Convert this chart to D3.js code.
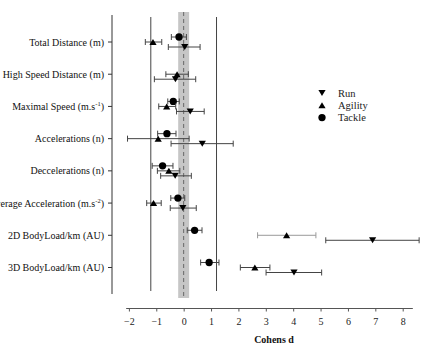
<!DOCTYPE html>
<html>
<head>
<meta charset="utf-8">
<script src="https://cdn.jsdelivr.net/npm/d3@7"></script>
<style>
    body { margin: 0; background: #fff; }
    svg { display: block; font-family: 'Liberation Serif', 'Times New Roman', serif; }
</style>
</head>
<body>
<svg id="chart" width="424" height="346"></svg>
<script>
/**
 * Forest plot of effect sizes (Cohen's d) for three drills.
 */
const categories = [
    'Total Distance (m)',
    'High Speed Distance (m)',
    'Maximal Speed (m.s|-1|)',
    'Accelerations (n)',
    'Decelerations (n)',
    'Average Acceleration (m.s|-2|)',
    '2D BodyLoad/km (AU)',
    '3D BodyLoad/km (AU)'
];
const catLabels = [
    'Total Distance (m)',
    'High Speed Distance (m)',
    'Maximal Speed (m.s|-1|)',
    'Accelerations (n)',
    'Decelerations (n)',
    'Average Acceleration (m.s|-2|)',
    '2D BodyLoad/km (AU)',
    '3D BodyLoad/km (AU)'
];
// fix typo'd label as it appears in the figure
catLabels[4] = 'Deccelerations (n)';

const tackleEst = [-0.17, null, -0.38, -0.61, -0.77, -0.21, 0.40, 0.93],
    tackleLo = [-0.45, null, -0.58, -0.95, -1.15, -0.47, 0.13, 0.62],
    tackleHi = [0.10, null, -0.16, -0.28, -0.39, 0.04, 0.67, 1.29];

const agilityEst = [-1.12, -0.24, -0.62, -0.93, -0.54, -1.10, 3.76, 2.60],
    agilityLo = [-1.40, -0.65, -0.91, -2.05, -0.96, -1.35, 2.70, 2.07],
    agilityHi = [-0.80, 0.17, -0.29, 0.20, -0.14, -0.82, 4.83, 3.15];

const runEst = [0.04, -0.30, 0.24, 0.68, -0.31, -0.03, 6.90, 4.03],
    runLo = [-0.56, -1.07, -0.26, -0.46, -0.84, -0.49, 5.19, 3.01],
    runHi = [0.60, 0.44, 0.75, 1.81, 0.28, 0.46, 8.60, 5.04];

const xTicks = [-2, -1, 0, 1, 2, 3, 4, 5, 6, 7, 8];
const refLines = [-1.2, 1.2];
const trivialBand = [-0.2, 0.2];

const series = [
    { name: 'Tackle', shape: 'circle', offset: -5, est: tackleEst, lo: tackleLo, hi: tackleHi },
    { name: 'Agility', shape: 'up', offset: 0, est: agilityEst, lo: agilityLo, hi: agilityHi },
    { name: 'Run', shape: 'down', offset: 5, est: runEst, lo: runLo, hi: runHi }
];
const legendOrder = ['Run', 'Agility', 'Tackle'];

/**
 * Scales.
 */
const svg = d3.select('#chart');
const xScale = d3.scaleLinear().domain([-2, 8]).range([128.9, 402.7]);
const yScale = d3.scalePoint().domain(categories).range([42, 267.5]);

const axisColor = '#555';

// Trivial band and reference lines
svg.append('rect')
    .attr('x', xScale(trivialBand[0]))
    .attr('width', xScale(trivialBand[1]) - xScale(trivialBand[0]))
    .attr('y', 12).attr('height', 286)
    .attr('fill', '#c6c6c6');

svg.append('line')
    .attr('x1', xScale(0)).attr('x2', xScale(0))
    .attr('y1', 12).attr('y2', 298)
    .attr('stroke', '#666').attr('stroke-width', 1)
    .attr('stroke-dasharray', '4,3');

svg.selectAll('.ref').data(refLines).enter().append('line')
    .attr('class', 'ref')
    .attr('x1', d => xScale(d)).attr('x2', d => xScale(d))
    .attr('y1', 17).attr('y2', 291)
    .attr('stroke', '#444').attr('stroke-width', 1);

// Y axis
const yAxisX = 112;
svg.append('line')
    .attr('x1', yAxisX).attr('x2', yAxisX)
    .attr('y1', 15).attr('y2', 294)
    .attr('stroke', '#333');

const yTick = svg.selectAll('.ytick').data(categories).enter().append('g')
    .attr('class', 'ytick')
    .attr('transform', d => 'translate(0,' + yScale(d) + ')');
yTick.append('line')
    .attr('x1', yAxisX - 4).attr('x2', yAxisX)
    .attr('stroke', '#333');
yTick.append('text')
    .attr('x', yAxisX - 8)
    .attr('dy', '0.35em')
    .attr('text-anchor', 'end')
    .attr('font-size', 10)
    .attr('fill', '#111')
    .each(function(d, i) {
        const parts = catLabels[i].split('|');
        const t = d3.select(this);
        t.append('tspan').text(parts[0]);
        if (parts.length > 1) {
            t.append('tspan').attr('font-size', 6.5).attr('dy', -4).text(parts[1]);
            t.append('tspan').attr('dy', 4).text(parts[2]);
        }
    });

// X axis
const xAxisY = 308.5;
const xAxis = d3.axisBottom(xScale).tickValues(xTicks).tickSize(3).tickFormat(d3.format('d'));
const xg = svg.append('g')
    .attr('transform', 'translate(0,' + xAxisY + ')')
    .call(xAxis);
xg.select('.domain').remove();
xg.append('line')
    .attr('x1', xScale(-2.1)).attr('x2', xScale(8.37))
    .attr('stroke', axisColor);
xg.selectAll('.tick line').attr('stroke', axisColor);
xg.selectAll('.tick text')
    .attr('font-family', "'Liberation Serif', serif")
    .attr('font-size', 10)
    .attr('fill', '#222')
    .attr('y', 9);

svg.append('text')
    .attr('x', xScale(3.3)).attr('y', 343)
    .attr('text-anchor', 'middle')
    .attr('font-size', 10).attr('font-weight', 'bold')
    .attr('fill', '#111')
    .text('Cohens d');

/**
 * Markers.
 */
function markerPath(shape) {
    if (shape === 'circle') return d3.symbol().type(d3.symbolCircle).size(42)();
    const w = 3.6, h = 3;
    if (shape === 'up') return 'M0,' + (-h) + 'L' + w + ',' + h + 'L' + (-w) + ',' + h + 'Z';
    return 'M0,' + h + 'L' + w + ',' + (-h) + 'L' + (-w) + ',' + (-h) + 'Z';
}

series.forEach(s => {
    const rows = categories.map((c, i) => ({ cat: c, est: s.est[i], lo: s.lo[i], hi: s.hi[i] }))
        .filter(d => d.est !== null);
    const g = svg.append('g').attr('class', 'series ' + s.name);
    const bar = g.selectAll('.bar').data(rows).enter().append('g')
        .attr('class', 'bar')
        .attr('transform', d => 'translate(0,' + (yScale(d.cat) + s.offset) + ')');
    const barColor = d => (s.name === 'Agility' && d.cat.startsWith('2D')) ? '#999' : '#444';
    bar.append('line')
        .attr('x1', d => xScale(d.lo)).attr('x2', d => xScale(d.hi))
        .attr('stroke', barColor);
    bar.append('line')
        .attr('x1', d => xScale(d.lo)).attr('x2', d => xScale(d.lo))
        .attr('y1', -3).attr('y2', 3)
        .attr('stroke', barColor);
    bar.append('line')
        .attr('x1', d => xScale(d.hi)).attr('x2', d => xScale(d.hi))
        .attr('y1', -3).attr('y2', 3)
        .attr('stroke', barColor);
    bar.append('path')
        .attr('transform', d => 'translate(' + xScale(d.est) + ',0)')
        .attr('d', markerPath(s.shape))
        .attr('fill', '#000');
});

// Legend
const legend = svg.append('g').attr('transform', 'translate(322,93)');
const legendItem = legend.selectAll('.item').data(legendOrder).enter().append('g')
    .attr('class', 'item')
    .attr('transform', (d, i) => 'translate(0,' + (i * 12.3) + ')');
legendItem.append('path')
    .attr('d', d => markerPath(series.find(s => s.name === d).shape))
    .attr('fill', '#000');
legendItem.append('text')
    .attr('x', 16).attr('dy', '0.35em')
    .attr('font-size', 10.5)
    .attr('fill', '#222')
    .text(d => d);
</script>
</body>
</html>
